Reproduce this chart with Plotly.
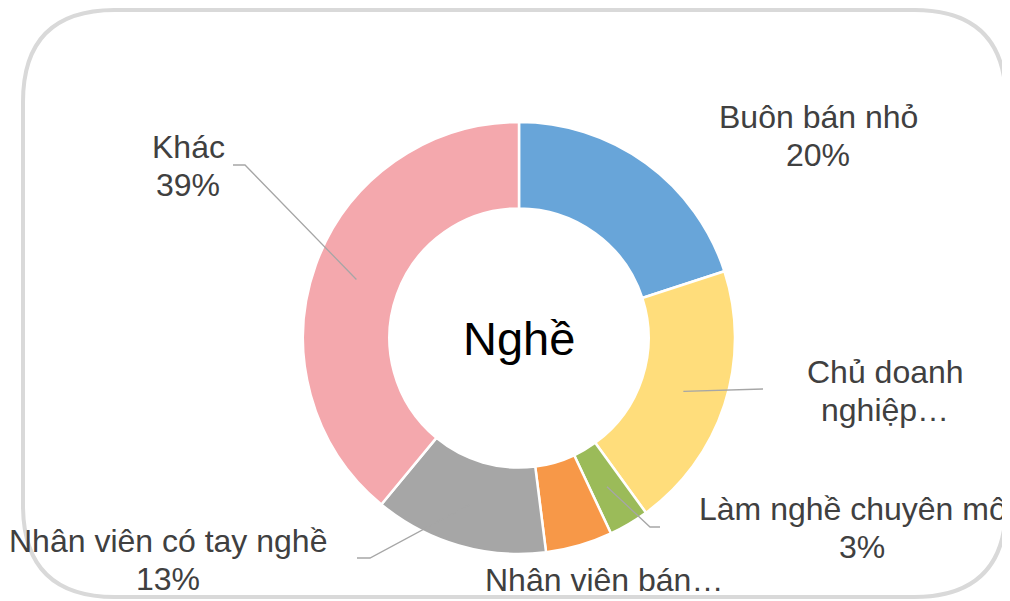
import math
import plotly.graph_objects as go

# ---- data ----
categories = ["Buôn bán nhỏ", "Chủ doanh nghiệp…", "Làm nghề chuyên môn",
              "Nhân viên bán…", "Nhân viên có tay nghề", "Khác"]
values = [20, 20, 3, 5, 13, 39]
show_pct = [True, False, True, False, True, True]
label_lines = [["Buôn bán nhỏ"], ["Chủ doanh", "nghiệp…"], ["Làm nghề chuyên môn"],
               ["Nhân viên bán…"], ["Nhân viên có tay nghề"], ["Khác"]]
colors = ["#68A5D9", "#FFDD7B", "#9BBB59", "#F79848", "#A6A6A6", "#F4A8AD"]
center_title = "Nghề"

# page places the figure 8px from the top-left (body margin)
OFF = 8
W, H = 1010 - OFF, 601 - OFF
CX, CY, R = 519, 338, 216
HOLE = 0.60
LINE_H = 37.5

def px(x):
    return (x - OFF) / W

def py(y):
    return 1 - (y - OFF) / H

fig = go.Figure()
fig.add_trace(go.Pie(
    labels=categories, values=values, sort=False, direction="clockwise",
    rotation=0, hole=HOLE, textinfo="none", hoverinfo="label+percent",
    marker=dict(colors=colors, line=dict(color="white", width=2.5)),
    domain=dict(x=[px(CX - R), px(CX + R)], y=[py(CY + R), py(CY - R)]),
    showlegend=False,
))

# label placement: centre of the label block (px of the window)
label_pos = [(818, 136), (885, 391), (862, 528), (604, 580), (168, 560), (188, 166)]
leader_path = {
    1: [(763, 389)],
    2: [(650, 527), (660, 527)],
    4: [(370, 558), (357, 558)],
    5: [(245, 165), (233, 165)],
}

total = sum(values)
cum = 0
anchors = []
for v in values:
    mid = (cum + v / 2) / total * 360
    cum += v
    rr = R * (1 + HOLE) / 2
    a = math.radians(mid)
    anchors.append((CX + rr * math.sin(a), CY - rr * math.cos(a)))

annotations = []
for i, (cat, v) in enumerate(zip(categories, values)):
    lines = list(label_lines[i])
    if show_pct[i]:
        lines.append(f"{round(v / total * 100)}%")
    x, y = label_pos[i]
    n = len(lines)
    for k, ln in enumerate(lines):
        yy = y + (k - (n - 1) / 2) * LINE_H
        annotations.append(dict(
            x=px(x), y=py(yy), xref="paper", yref="paper", text=ln, showarrow=False,
            xanchor="center", yanchor="middle",
            font=dict(family="Liberation Sans, Arial, sans-serif", size=32, color="#404040"),
        ))

annotations.append(dict(
    x=px(CX), y=py(CY), xref="paper", yref="paper", text=center_title, showarrow=False,
    xanchor="center", yanchor="middle",
    font=dict(family="Liberation Sans, Arial, sans-serif", size=47, color="#000000"),
))

shapes = []
for i, pts in leader_path.items():
    allpts = [anchors[i]] + pts
    d = "M " + " L ".join(f"{px(x):.5f},{py(y):.5f}" for x, y in allpts)
    shapes.append(dict(type="path", path=d, xref="paper", yref="paper",
                       line=dict(color="#A6A6A6", width=1.3)))

# rounded border
L, T, Rt, B, rad = 23, 10, 1006, 597, 92
def P(x, y):
    return f"{px(x):.5f},{py(y):.5f}"
border = (f"M {P(L + rad, T)} L {P(Rt - rad, T)} Q {P(Rt, T)} {P(Rt, T + rad)} "
          f"L {P(Rt, B - rad)} Q {P(Rt, B)} {P(Rt - rad, B)} "
          f"L {P(L + rad, B)} Q {P(L, B)} {P(L, B - rad)} "
          f"L {P(L, T + rad)} Q {P(L, T)} {P(L + rad, T)} Z")
shapes.append(dict(type="path", path=border, xref="paper", yref="paper",
                   line=dict(color="#D9D9D9", width=4), layer="above"))

fig.update_layout(
    width=W, height=H, margin=dict(l=0, r=0, t=0, b=0),
    paper_bgcolor="white", plot_bgcolor="white",
    annotations=annotations, shapes=shapes,
)

fig.write_html("out.html")
